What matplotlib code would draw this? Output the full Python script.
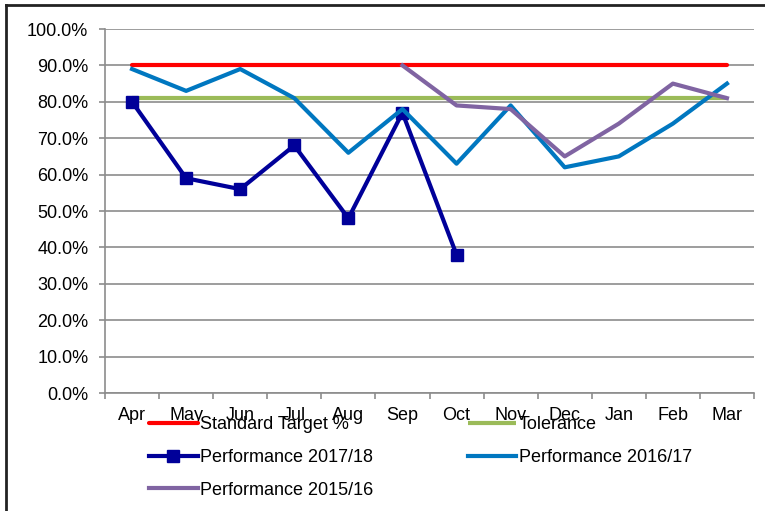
import numpy as np
import matplotlib.pyplot as plt
from matplotlib.lines import Line2D

plt.rcParams['font.family'] = ['Liberation Sans', 'DejaVu Sans']

months = ['Apr', 'May', 'Jun', 'Jul', 'Aug', 'Sep', 'Oct', 'Nov', 'Dec', 'Jan', 'Feb', 'Mar']
target = [90] * 12
tolerance = [81] * 12
perf_1718 = [80, 59, 56, 68, 48, 77, 38]
perf_1617 = [89, 83, 89, 81, 66, 78, 63, 79, 62, 65, 74, 85]
perf_1516 = [90, 79, 78, 65, 74, 85, 81]   # Sep..Mar

x = np.arange(len(months))
gray = '#8c8c8c'

fig = plt.figure(figsize=(7.65, 5.11), dpi=100)
ax = fig.add_axes([105/765, 1-393/511, (754-105)/765, (393-29)/511])

l_t, = ax.plot(x, target, color='#ff0000', lw=3, solid_capstyle='round', label='Standard Target %')
l_tol, = ax.plot(x, tolerance, color='#9bbb59', lw=3, solid_capstyle='butt', label='Tolerance')
l_17, = ax.plot(x[:len(perf_1718)], perf_1718, color='#000099', lw=3, marker='s', ms=8,
                label='Performance 2017/18')
l_16, = ax.plot(x, perf_1617, color='#0077c0', lw=3, label='Performance 2016/17')
l_15, = ax.plot(x[5:], perf_1516, color='#8064a2', lw=3, label='Performance 2015/16')

ax.set_xlim(-0.5, 11.5)
ax.set_ylim(0, 100)
ax.set_yticks(np.arange(0, 101, 10))
ax.set_yticklabels(['%.1f%%' % v for v in np.arange(0, 101, 10)])
ax.yaxis.grid(True, color=gray, lw=1.2)
ax.set_axisbelow(True)

ax.set_xticks(np.arange(-0.5, 12, 1))
ax.set_xticklabels([])
ax.set_xticks(x, minor=True)
ax.set_xticklabels(months, minor=True)
ax.tick_params(axis='x', which='minor', length=0, pad=10, labelsize=13)
ax.tick_params(axis='x', which='major', length=4, color=gray, width=1.2)
ax.tick_params(axis='y', length=4, color=gray, width=1.2, labelsize=13, pad=8)

for s in ['top', 'right']:
    ax.spines[s].set_visible(False)
for s in ['left', 'bottom']:
    ax.spines[s].set_color(gray)
    ax.spines[s].set_linewidth(1.2)

handles = [l_t, l_17, l_15, l_tol, l_16]
fig.legend(handles, [h.get_label() for h in handles], ncol=2, frameon=False,
           loc='upper left', bbox_to_anchor=(149/765, 1-416/511), borderpad=0,
           borderaxespad=0, handlelength=2.7, handletextpad=0.15, labelspacing=0.88,
           columnspacing=5.2, fontsize=13, numpoints=1)

# outer chart border
fig.add_artist(Line2D([6/765, 6/765], [0, 1-5/511], color='#222222', lw=2))
fig.add_artist(Line2D([6/765, 1], [1-5/511, 1-5/511], color='#222222', lw=2))

fig.savefig('out.png', dpi=100)
